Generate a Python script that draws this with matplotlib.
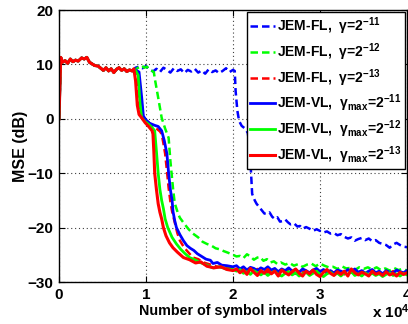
import matplotlib
matplotlib.use("Agg")
import matplotlib.pyplot as plt

plt.rcParams["font.family"] = ["Liberation Sans", "DejaVu Sans"]
plt.rcParams["font.weight"] = "bold"
plt.rcParams["mathtext.fontset"] = "custom"
plt.rcParams["mathtext.rm"] = "Liberation Sans:bold"
plt.rcParams["mathtext.it"] = "Liberation Sans:bold"
plt.rcParams["mathtext.bf"] = "Liberation Sans:bold"

# Tramo inicial comun (x en unidades de 1e4 intervalos, MSE en dB)
t_ini = [0, 0.02, 0.04, 0.07, 0.1, 0.13, 0.16, 0.19, 0.22, 0.26, 0.29, 0.32, 0.35, 0.38,
         0.41, 0.45, 0.48, 0.51, 0.54, 0.57, 0.6, 0.63, 0.66, 0.69, 0.72, 0.75, 0.78, 0.81, 0.84]
mse_ini = [0, 11.3, 10.4, 10.7, 10.2, 11.0, 10.5, 10.8, 10.6, 11.2, 11.0, 11.3, 10.4, 10.1,
           9.8, 9.7, 9.3, 8.9, 9.4, 8.8, 9.2, 8.5, 9.1, 9.4, 8.9, 9.2, 8.7, 9.0, 8.8]

# Tramo final comun de x
t_fin = [2.04, 2.08, 2.12, 2.16, 2.2, 2.24, 2.28, 2.32, 2.36, 2.4,
         2.44, 2.48, 2.52, 2.56, 2.6, 2.64, 2.68, 2.72, 2.76, 2.8,
         2.84, 2.88, 2.92, 2.96, 3.0, 3.04, 3.08, 3.12, 3.16, 3.2,
         3.24, 3.28, 3.32, 3.36, 3.4, 3.44, 3.48, 3.52, 3.56, 3.6,
         3.64, 3.68, 3.72, 3.76, 3.8, 3.84, 3.88, 3.92, 3.96, 4.0]

# JEM-FL, gamma = 2^-11
t_fl11 = [0.88, 0.92, 0.96, 1.0, 1.04, 1.08, 1.12, 1.16, 1.2, 1.24, 1.28, 1.32, 1.36, 1.4,
          1.44, 1.48, 1.52, 1.56, 1.6, 1.64, 1.68, 1.72, 1.76, 1.8, 1.84, 1.88, 1.92, 1.96,
          2.0, 2.02, 2.03, 2.05, 2.07, 2.1, 2.14, 2.17, 2.19, 2.2, 2.22, 2.25, 2.27, 2.3,
          2.33, 2.36, 2.39, 2.42, 2.45, 2.48, 2.51, 2.54, 2.57, 2.6, 2.63, 2.66, 2.7, 2.74,
          2.77, 2.8, 2.84, 2.88, 2.92, 2.96, 3.0, 3.04, 3.08, 3.12, 3.16, 3.2, 3.24, 3.28,
          3.32, 3.36, 3.4, 3.44, 3.48, 3.52, 3.56, 3.6, 3.64, 3.68, 3.72, 3.76, 3.8, 3.84,
          3.88, 3.92, 3.96, 4.0]
mse_fl11 = [9.4, 9.6, 9.3, 9.7, 9.1, 8.7, 9.2, 8.6, 9.4, 9.0, 8.5, 9.3, 8.8, 9.1,
            8.4, 9.0, 8.7, 9.2, 8.5, 8.9, 8.3, 9.1, 8.6, 8.9, 8.4, 8.8, 9.3, 8.6,
            9.0, 8.8, 5.1, 1.5, -0.4, -1.3, -1.8, -2.6, -5.0, -7.7, -13.8, -15.0, -15.6, -16.2,
            -16.8, -17.4, -17.5, -17.2, -18.0, -18.4, -18.1, -18.9, -18.8, -18.5, -19.0, -19.4, -19.2, -19.8,
            -19.7, -20.2, -19.9, -20.2, -20.6, -20.3, -20.6, -20.9, -20.7, -21.1, -21.0, -21.4, -21.2, -21.7,
            -22.0, -21.8, -22.4, -22.1, -21.9, -22.3, -22.0, -22.5, -22.3, -22.8, -23.0, -23.2, -23.7, -23.1,
            -22.8, -23.2, -23.5, -23.6]

# JEM-FL, gamma = 2^-12
t_fl12 = [0.88, 0.92, 0.95, 0.98, 1.01, 1.04, 1.07, 1.09, 1.1, 1.14, 1.18, 1.22, 1.26, 1.28,
          1.31, 1.33, 1.37, 1.39, 1.44, 1.49, 1.54, 1.6, 1.65, 1.7, 1.75, 1.8, 1.85, 1.89,
          1.94, 2.0, 2.04, 2.08, 2.12, 2.16, 2.2, 2.24, 2.28, 2.31, 2.35, 2.39, 2.43, 2.47,
          2.51, 2.55, 2.6, 2.65, 2.7, 2.75, 2.8, 2.85, 2.9, 2.95, 3.0, 3.05, 3.1, 3.15,
          3.2, 3.25, 3.3, 3.35, 3.4, 3.45, 3.5, 3.55, 3.6, 3.65, 3.7, 3.75, 3.8, 3.85,
          3.9, 3.95, 4.0]
mse_fl12 = [9.1, 9.5, 9.8, 9.4, 9.6, 9.0, 8.8, 8.6, 7.5, 3.9, 0.2, -1.8, -3.5, -7.7,
            -12.7, -15.5, -17.5, -18.2, -19.3, -20.3, -21.1, -21.8, -22.6, -23.0, -23.3, -23.8, -24.0, -24.3,
            -24.6, -25.0, -25.3, -25.2, -25.6, -24.9, -25.3, -25.9, -25.5, -25.4, -26.1, -25.8, -26.4, -26.2,
            -26.7, -26.4, -26.8, -26.5, -27.0, -26.7, -27.2, -26.8, -26.6, -27.1, -26.6, -27.0, -27.3, -27.2,
            -27.6, -27.1, -27.5, -27.4, -27.8, -27.3, -27.6, -27.3, -27.7, -27.3, -27.8, -27.5, -27.9, -27.4,
            -27.8, -27.6, -27.9]

# JEM-FL, gamma = 2^-13
t_fl13 = [0.88, 0.9, 0.93, 0.96, 1.0, 1.04, 1.08, 1.12, 1.16, 1.18, 1.2, 1.22, 1.24, 1.26,
          1.28, 1.3, 1.33, 1.36, 1.39, 1.44, 1.5, 1.54, 1.6, 1.66, 1.72, 1.8, 1.88, 1.94, 2.0]
mse_fl13 = [8.9, 6.0, 1.5, 0.2, -0.3, -0.8, -1.5, -1.8, -2.3, -2.8, -4.5, -6.4, -9.5, -12.7,
            -15.2, -17.0, -19.0, -21.0, -22.4, -23.7, -24.8, -25.5, -25.8, -26.4, -26.7, -27.1, -27.4, -27.2, -27.6]
fin_fl13 = [-27.5, -27.9, -27.4, -28.0, -27.7, -28.2, -27.6, -28.1, -27.8, -28.3,
            -27.7, -28.0, -28.4, -27.9, -28.2, -27.6, -28.1, -28.5, -27.9, -28.2,
            -28.0, -28.4, -27.8, -28.1, -28.3, -27.9, -28.5, -28.0, -28.3, -27.8,
            -28.2, -28.6, -28.0, -28.3, -27.9, -28.4, -28.1, -28.5, -28.2, -27.9,
            -28.4, -28.1, -28.6, -28.2, -28.5, -28.0, -28.4, -28.3, -28.6, -28.2]

# JEM-VL, gamma_max = 2^-11
t_vl11 = [0.88, 0.92, 0.95, 0.97, 1.0, 1.04, 1.07, 1.1, 1.14, 1.18, 1.21, 1.24, 1.26, 1.28,
          1.3, 1.31, 1.33, 1.35, 1.39, 1.43, 1.47, 1.51, 1.55, 1.59, 1.64, 1.69, 1.74, 1.77,
          1.82, 1.87, 1.93, 2.0]
mse_vl11 = [9.0, 8.6, 4.0, 0.5, -0.2, -0.8, -1.0, -1.2, -1.4, -2.2, -4.0, -6.4, -10.0, -13.0,
            -15.0, -17.0, -18.7, -20.0, -21.3, -22.4, -23.3, -23.8, -24.2, -24.8, -25.3, -25.8, -26.0, -26.6,
            -26.4, -26.9, -27.0, -27.2]
fin_vl11 = [-27.0, -27.6, -27.2, -27.8, -27.3, -27.5, -27.9, -27.4, -27.7, -27.2,
            -27.8, -27.5, -28.1, -27.6, -27.9, -27.4, -28.0, -27.7, -28.2, -27.6,
            -27.9, -28.3, -27.8, -27.5, -28.1, -27.7, -28.2, -27.9, -28.4, -27.8,
            -28.0, -28.3, -27.7, -28.1, -27.6, -28.2, -27.9, -28.4, -28.0, -27.7,
            -28.3, -28.0, -28.5, -27.9, -28.2, -28.4, -27.8, -28.1, -28.3, -27.9]

# JEM-VL, gamma_max = 2^-12
t_vl12 = [0.88, 0.91, 0.93, 0.95, 0.99, 1.03, 1.07, 1.1, 1.12, 1.14, 1.16, 1.18, 1.2, 1.22,
          1.25, 1.3, 1.35, 1.4, 1.45, 1.5, 1.56, 1.62, 1.7, 1.77, 1.85, 1.92, 2.0]
mse_vl12 = [8.9, 8.0, 3.0, 0.2, -0.5, -1.0, -1.6, -2.2, -6.0, -10.0, -13.0, -15.0, -16.5, -18.4,
            -20.0, -21.8, -23.0, -24.0, -24.8, -25.5, -25.9, -26.4, -26.9, -27.4, -27.2, -27.6, -27.7]
fin_vl12 = [-28.0, -27.7, -28.4, -28.1, -28.6, -27.9, -28.3, -28.7, -28.2, -28.8,
            -28.3, -28.0, -28.6, -28.9, -28.4, -28.1, -28.7, -28.3, -28.9, -28.5,
            -28.2, -28.8, -28.4, -28.0, -28.6, -29.0, -28.5, -28.2, -28.7, -28.4,
            -28.9, -28.3, -28.6, -28.1, -28.8, -28.5, -28.9, -28.3, -28.7, -28.4,
            -28.8, -28.5, -29.0, -28.6, -28.3, -28.8, -28.5, -28.9, -28.4, -28.7]

# JEM-VL, gamma_max = 2^-13
t_vl13 = [0.86, 0.88, 0.9, 0.92, 0.95, 0.99, 1.03, 1.07, 1.08, 1.09, 1.1, 1.12, 1.14, 1.16,
          1.18, 1.2, 1.23, 1.27, 1.31, 1.36, 1.43, 1.5, 1.57, 1.63, 1.7, 1.78, 1.86, 1.93, 2.0]
mse_vl13 = [9.2, 7.0, 2.5, 0.8, 0.2, -0.7, -1.4, -2.2, -2.8, -6.0, -10.0, -13.0, -15.6, -17.2,
            -18.4, -20.0, -21.5, -22.8, -23.7, -24.5, -25.5, -25.9, -26.5, -26.3, -27.1, -27.4, -27.2, -27.7, -27.9]
fin_vl13 = [-27.6, -28.3, -27.8, -28.6, -27.5, -28.2, -28.8, -27.9, -28.4, -27.7,
            -28.5, -28.0, -28.9, -27.8, -28.3, -28.7, -28.1, -27.6, -28.4, -28.9,
            -28.0, -28.5, -27.8, -28.6, -29.0, -28.2, -27.7, -28.4, -28.8, -28.1,
            -28.6, -28.0, -28.9, -27.6, -28.3, -28.7, -28.2, -28.5, -28.9, -28.0,
            -28.6, -28.3, -28.8, -28.1, -28.7, -28.4, -28.9, -28.2, -28.6, -28.3]

fig = plt.figure(figsize=(4.08, 3.24), dpi=100)
ax = fig.add_axes([0.1446, 0.1296, 0.853, 0.8394])

dash = (0, (3.0, 1.6))
ax.plot(t_ini + t_fl11, mse_ini + mse_fl11, color="#0000ff", lw=1.8, linestyle=dash,
        label=r"JEM-FL,  γ=2$^{-11}$")
ax.plot(t_ini + t_fl12, mse_ini + mse_fl12, color="#00ff00", lw=1.8, linestyle=dash,
        label=r"JEM-FL,  γ=2$^{-12}$")
ax.plot(t_ini + t_fl13 + t_fin, mse_ini + mse_fl13 + fin_fl13, color="#ff0000", lw=1.8,
        linestyle=dash, label=r"JEM-FL,  γ=2$^{-13}$")
ax.plot(t_ini + t_vl11 + t_fin, mse_ini + mse_vl11 + fin_vl11, color="#0000ff", lw=2.0,
        label=r"JEM-VL,  γ$_{\mathrm{max}}$=2$^{-11}$")
ax.plot(t_ini + t_vl12 + t_fin, mse_ini + mse_vl12 + fin_vl12, color="#00ff00", lw=2.0,
        label=r"JEM-VL,  γ$_{\mathrm{max}}$=2$^{-12}$")
ax.plot(t_ini + t_vl13 + t_fin, mse_ini + mse_vl13 + fin_vl13, color="#ff0000", lw=2.2,
        label=r"JEM-VL,  γ$_{\mathrm{max}}$=2$^{-13}$")

ax.set_xlim(0, 4)
ax.set_ylim(-30, 20)
ax.set_xticks([0, 1, 2, 3, 4])
ax.set_yticks([-30, -20, -10, 0, 10, 20])
ax.grid(True, color="0.25", linewidth=0.8, linestyle=(0, (1, 2.5)))
ax.tick_params(direction="in", top=True, right=True, length=4, labelsize=11, pad=4)
for s in ax.spines.values():
    s.set_linewidth(1.0)

ax.set_xlabel("Number of symbol intervals", fontsize=10.3, fontweight="bold", labelpad=2)
ax.set_ylabel("MSE (dB)", fontsize=11.5, fontweight="bold", labelpad=0)
fig.text(0.912, 0.01, r"x 10$^4$", fontsize=11, fontweight="bold", ha="left", va="bottom")

leg = ax.legend(loc="upper right", bbox_to_anchor=(0.995, 0.993), borderaxespad=0,
                fontsize=10, handlelength=1.8, handletextpad=0.15, labelspacing=0.3,
                borderpad=0.25, fancybox=False, framealpha=1, edgecolor="black")
leg.get_frame().set_linewidth(1.0)

fig.savefig("out.png", dpi=100)
